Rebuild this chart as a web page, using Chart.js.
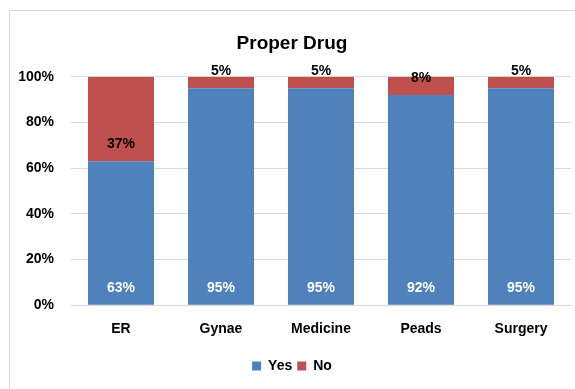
<!DOCTYPE html>
<html>
<head>
<meta charset="utf-8">
<script src="https://cdn.jsdelivr.net/npm/chart.js@4.4.1/dist/chart.umd.min.js"></script>
<style>
  html, body { margin: 0; padding: 0; background: #fff; }
  #wrap { position: relative; width: 575px; height: 389px; }
  #frame { position: absolute; left: 9px; top: 10px; width: 580px; height: 390px; border: 1px solid #d9d9d9; box-sizing: border-box; }
  canvas { position: absolute; left: 0; top: 0; }
</style>
</head>
<body>
<div id="wrap">
  <div id="frame"></div>
  <canvas id="c" width="575" height="389"></canvas>
</div>
<script>
const categories = ['ER', 'Gynae', 'Medicine', 'Peads', 'Surgery'];
const yesValues = [63, 95, 95, 92, 95];
const noValues = [37, 5, 5, 8, 5];
const yTicks = [0, 20, 40, 60, 80, 100];

const FONT = '"Liberation Sans", Arial, sans-serif';
const BLUE = '#4F81BD';
const RED = '#C0504D';

// Percent labels: Yes at the inside base, No at the inside base or above the bar when the segment is short
const barLabels = {
  id: 'barLabels',
  afterDatasetsDraw(chart) {
    const ctx = chart.ctx;
    ctx.save();
    ctx.font = 'bold 14px ' + FONT;
    ctx.textAlign = 'center';
    ctx.textBaseline = 'middle';
    chart.data.datasets.forEach((ds, di) => {
      const meta = chart.getDatasetMeta(di);
      meta.data.forEach((bar, i) => {
        const v = ds.data[i];
        const base = bar.base;
        const top = bar.y;
        let y;
        if (di === 0) {
          y = base - 17;
          ctx.fillStyle = '#ffffff';
        } else {
          y = Math.max(base - 17, top - 8);
          ctx.fillStyle = '#000000';
        }
        ctx.fillText(v + '%', bar.x, y);
      });
    });
    ctx.restore();
  }
};

new Chart(document.getElementById('c'), {
  type: 'bar',
  data: {
    labels: categories,
    datasets: [
      { label: 'Yes', data: yesValues, backgroundColor: BLUE, categoryPercentage: 0.66, barPercentage: 1.0 },
      { label: 'No', data: noValues, backgroundColor: RED, categoryPercentage: 0.66, barPercentage: 1.0 }
    ]
  },
  options: {
    responsive: false,
    animation: false,
    devicePixelRatio: 1,
    layout: { padding: { left: 13, right: 4, top: 32, bottom: 6 } },
    plugins: {
      title: {
        display: true,
        text: 'Proper Drug',
        color: '#000',
        font: { family: FONT, size: 19, weight: 'bold' },
        padding: { top: 0, bottom: 22 }
      },
      legend: {
        position: 'bottom',
        labels: {
          color: '#000',
          font: { family: FONT, size: 14, weight: 'bold' },
          boxWidth: 9,
          boxHeight: 9,
          padding: 5
        }
      },
      tooltip: { enabled: false }
    },
    scales: {
      x: {
        stacked: true,
        grid: { display: false, drawTicks: false },
        border: { color: '#d9d9d9' },
        ticks: { color: '#000', font: { family: FONT, size: 14, weight: 'bold' }, padding: 16 }
      },
      y: {
        stacked: true,
        min: 0,
        max: 100,
        afterBuildTicks(axis) { axis.ticks = yTicks.map(v => ({ value: v })); },
        afterFit(axis) { axis.width = 58; },
        grid: { color: '#d9d9d9', drawTicks: false },
        border: { display: false },
        ticks: {
          color: '#000',
          font: { family: FONT, size: 14, weight: 'bold' },
          padding: 17,
          callback: v => v + '%'
        }
      }
    }
  },
  plugins: [barLabels]
});
</script>
</body>
</html>
